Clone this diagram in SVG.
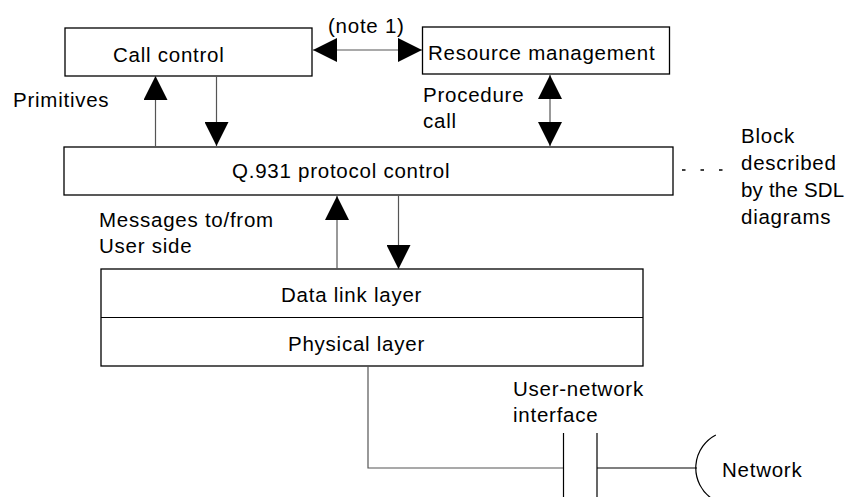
<svg xmlns="http://www.w3.org/2000/svg" width="846" height="497" viewBox="0 0 846 497">
<style>
  .box{fill:#fff;stroke:#000;stroke-width:1.3}
  .ln{fill:none;stroke:#000;stroke-width:1.2}
  .g{fill:none;stroke:#555;stroke-width:1.2}
  .dash{fill:none;stroke:#000;stroke-width:1.5;stroke-dasharray:3.5 15}
  text{font-family:"Liberation Sans",Arial,sans-serif;font-size:20.5px;letter-spacing:0.75px;fill:#000}
  .tight{letter-spacing:0.2px}
</style>
<defs>
  <marker id="ah" viewBox="0 0 24 24" refX="24" refY="12" markerWidth="24" markerHeight="24" markerUnits="userSpaceOnUse" orient="auto-start-reverse">
    <path d="M0,0 L24,12 L0,24 Z" fill="#000"/>
  </marker>
</defs>
<rect width="846" height="497" fill="#fff"/>

<g id="call-control">
  <rect class="box" x="65" y="28" width="247" height="48"/>
  <text x="113" y="62">Call control</text>
</g>
<g id="resource-management">
  <rect class="box" x="422.5" y="27" width="247" height="47"/>
  <text x="428" y="60">Resource management</text>
</g>
<g id="q931-protocol-control">
  <rect class="box" x="64" y="147" width="609" height="48"/>
  <text x="232" y="178">Q.931 protocol control</text>
</g>
<g id="layers">
  <rect class="box" x="101" y="269" width="542" height="97"/>
  <line class="ln" x1="101" y1="317.5" x2="643" y2="317.5"/>
  <text x="281" y="302">Data link layer</text>
  <text x="288" y="351">Physical layer</text>
</g>
<g id="interface">
  <line class="ln" x1="563.5" y1="433" x2="563.5" y2="497"/>
  <line class="ln" x1="597" y1="433" x2="597" y2="497"/>
  <text x="513" y="396">User-network</text>
  <text x="513" y="422">interface</text>
</g>
<g id="network">
  <path class="ln" d="M715.8,435 A37.2,37.2 0 0 0 711,498"/>
  <text x="722" y="477">Network</text>
</g>

<g id="connectors">
  <line class="g" x1="313" y1="50" x2="422" y2="50" marker-start="url(#ah)" marker-end="url(#ah)"/>
  <line class="g" x1="155.5" y1="147" x2="155.5" y2="76" marker-end="url(#ah)"/>
  <line class="g" x1="216.5" y1="76" x2="216.5" y2="146" marker-end="url(#ah)"/>
  <line class="g" x1="550" y1="75" x2="550" y2="146" marker-start="url(#ah)" marker-end="url(#ah)"/>
  <line class="g" x1="337" y1="269" x2="337" y2="196" marker-end="url(#ah)"/>
  <line class="g" x1="398.5" y1="195" x2="398.5" y2="269" marker-end="url(#ah)"/>
  <line class="dash" x1="682" y1="170" x2="723" y2="170"/>
  <polyline class="g" points="368,366 368,468 563,468"/>
  <line class="ln" x1="597" y1="468" x2="697" y2="468"/>
</g>

<g id="labels">
  <text x="328" y="33">(note 1)</text>
  <text x="13" y="107">Primitives</text>
  <text x="423" y="102">Procedure</text>
  <text x="423" y="128">call</text>
  <text x="741" y="143">Block</text>
  <text x="741" y="170">described</text>
  <text class="tight" x="741" y="197">by the SDL</text>
  <text x="741" y="224">diagrams</text>
  <text x="99" y="227">Messages to/from</text>
  <text x="99" y="253">User side</text>
</g>
</svg>
